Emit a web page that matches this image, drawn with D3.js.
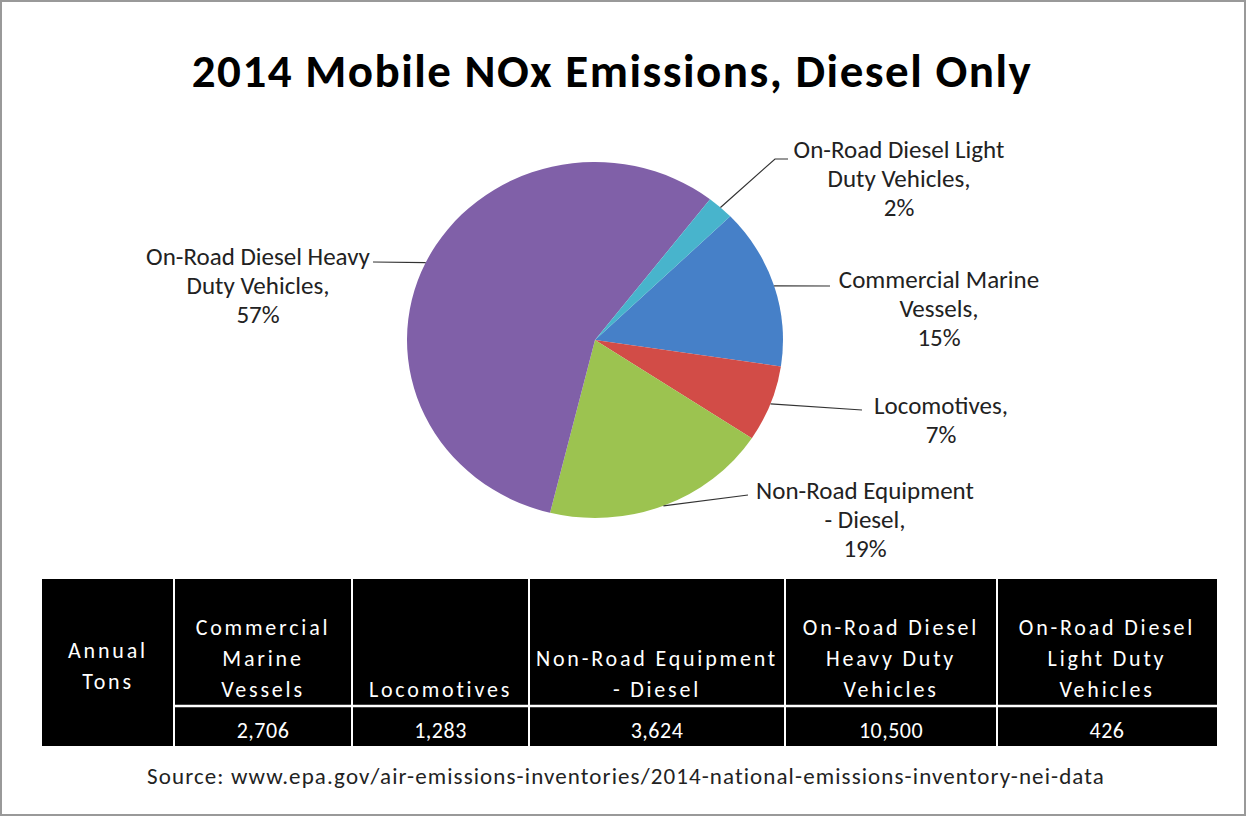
<!DOCTYPE html>
<html>
<head>
<meta charset="utf-8">
<script src="https://cdn.jsdelivr.net/npm/d3@7"></script>
<style>
  body { margin: 0; background: #fff; }
  svg { display: block; font-family: Calibri, Carlito, Lato, sans-serif; }
</style>
</head>
<body>
<svg width="1247" height="817"></svg>
<script>
// data
var categories = ["Commercial Marine Vessels", "Locomotives", "Non-Road Equipment - Diesel",
                  "On-Road Diesel Heavy Duty Vehicles", "On-Road Diesel Light Duty Vehicles"];
var tons = [2706, 1283, 3624, 10500, 426];
var pctLabels = ["15%", "7%", "19%", "57%", "2%"];
var pieLabelLines = [
  ["Commercial Marine", "Vessels,"],
  ["Locomotives,"],
  ["Non-Road Equipment", "- Diesel,"],
  ["On-Road Diesel Heavy", "Duty Vehicles,"],
  ["On-Road Diesel Light", "Duty Vehicles,"]
];
var headerLines = [
  ["Commercial", "Marine", "Vessels"],
  ["Locomotives"],
  ["Non-Road Equipment", "- Diesel"],
  ["On-Road Diesel", "Heavy Duty", "Vehicles"],
  ["On-Road Diesel", "Light Duty", "Vehicles"]
];
var colors = ["#4680c8", "#d24c47", "#9cc350", "#8060a8", "#48b4cc"];

var svg = d3.select("svg");

// frame
svg.append("rect")
    .attr("x", 1).attr("y", 1).attr("width", 1244).attr("height", 814)
    .attr("fill", "#fff").attr("stroke", "#999").attr("stroke-width", 2);

svg.append("text")
    .attr("x", 612).attr("y", 87)
    .attr("text-anchor", "middle")
    .attr("font-size", 47).attr("font-weight", "bold").attr("letter-spacing", 1.5)
    .text("2014 Mobile NOx Emissions, Diesel Only");

// pie (picture is a bit wider than tall)
var cx = 595, cy = 340, ry = 178, rx = 188;
var start = 46 * Math.PI / 180;

var pie = d3.pie().sort(null).startAngle(start).endAngle(start + 2 * Math.PI);
var arcs = pie(tons);
var arc = d3.arc().innerRadius(0).outerRadius(ry);

svg.append("g")
    .attr("transform", "translate(" + cx + "," + cy + ") scale(" + (rx / ry) + ",1)")
  .selectAll("path")
  .data(arcs)
  .enter().append("path")
    .attr("d", arc)
    .attr("fill", function(d, i) { return colors[i]; });

// label layout: anchor (text centre x, first baseline) and leader line bends
var labelPos = [
  {x: 939, y: 288, pts: [[830, 286]]},
  {x: 941, y: 414, pts: [[862, 410]]},
  {x: 865, y: 499, pts: [[748, 495]]},
  {x: 258, y: 265, pts: [[373, 262]]},
  {x: 899, y: 158, pts: [[775, 159], [788, 159]]}
];

function edgePoint(d) {
  var a = (d.startAngle + d.endAngle) / 2;
  return [cx + rx * Math.sin(a), cy - ry * Math.cos(a)];
}

var labels = svg.append("g");
arcs.forEach(function(d, i) {
  var p = labelPos[i];
  var pts = [edgePoint(d)].concat(p.pts);
  labels.append("path")
      .attr("d", d3.line()(pts))
      .attr("fill", "none").attr("stroke", "#333").attr("stroke-width", 1.2);
  var t = labels.append("text")
      .attr("text-anchor", "middle")
      .attr("font-size", 25).attr("fill", "#222");
  pieLabelLines[i].concat([pctLabels[i]]).forEach(function(s, j) {
    t.append("tspan").attr("x", p.x).attr("y", p.y + j * 29).text(s);
  });
});

// table
var tx0 = 42, tx1 = 1217, ty0 = 579, ty1 = 746, rowLine = 706;
var colEdges = [174, 352, 529, 785, 997, 1217];
var fmt = d3.format(",");

var tbl = svg.append("g");
tbl.append("rect")
    .attr("x", tx0).attr("y", ty0).attr("width", tx1 - tx0).attr("height", ty1 - ty0)
    .attr("fill", "#000");

colEdges.slice(0, -1).forEach(function(x) {
  tbl.append("line").attr("x1", x).attr("x2", x).attr("y1", ty0).attr("y2", ty1)
      .attr("stroke", "#fff").attr("stroke-width", 2);
});
tbl.append("line").attr("x1", colEdges[0]).attr("x2", tx1).attr("y1", rowLine).attr("y2", rowLine)
    .attr("stroke", "#fff").attr("stroke-width", 2.5);

var hdr = tbl.append("text")
    .attr("text-anchor", "middle").attr("fill", "#fff")
    .attr("font-size", 22).attr("letter-spacing", 2.8);
hdr.append("tspan").attr("x", 108).attr("y", 658).text("Annual");
hdr.append("tspan").attr("x", 108).attr("y", 689).text("Tons");

categories.forEach(function(c, i) {
  var mx = (colEdges[i] + colEdges[i + 1]) / 2;
  var lines = headerLines[i];
  var t = tbl.append("text")
      .attr("text-anchor", "middle").attr("fill", "#fff")
      .attr("font-size", 22).attr("letter-spacing", 2.8);
  lines.forEach(function(s, j) {
    t.append("tspan").attr("x", mx).attr("y", 697 - (lines.length - 1 - j) * 31).text(s);
  });
  tbl.append("text")
      .attr("x", mx).attr("y", 738)
      .attr("text-anchor", "middle").attr("fill", "#fff")
      .attr("font-size", 22).attr("letter-spacing", 0.5)
      .text(fmt(tons[i]));
});

svg.append("text")
    .attr("x", 626).attr("y", 784)
    .attr("text-anchor", "middle")
    .attr("font-size", 23).attr("letter-spacing", 1.1).attr("fill", "#222")
    .text("Source: www.epa.gov/air-emissions-inventories/2014-national-emissions-inventory-nei-data");
</script>
</body>
</html>
